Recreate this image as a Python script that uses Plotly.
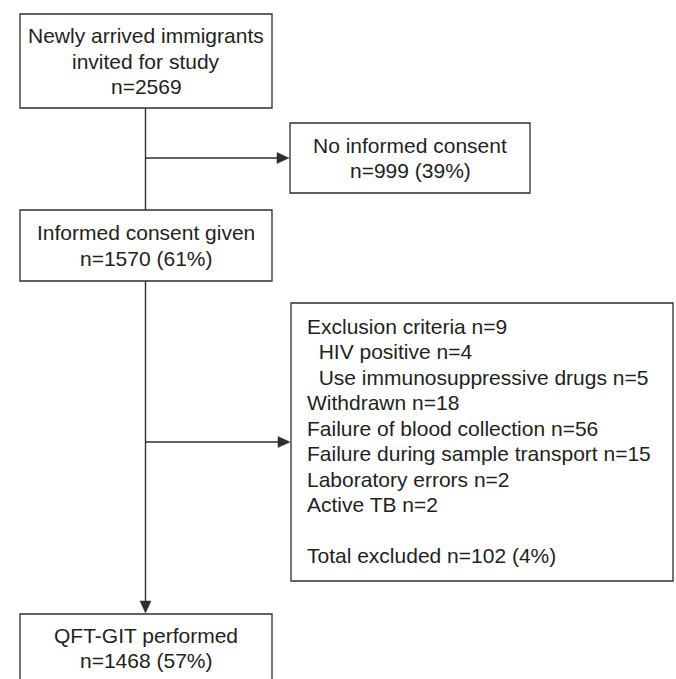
import plotly.graph_objects as go

# ---- content ----
box_titles = [
    ["Newly arrived immigrants", "invited for study", "n=2569"],
    ["No informed consent", "n=999 (39%)"],
    ["Informed consent given", "n=1570 (61%)"],
    ["QFT-GIT performed", "n=1468 (57%)"],
]
exclusion_lines = [
    "Exclusion criteria n=9",
    "\u00a0\u00a0HIV positive n=4",
    "\u00a0\u00a0Use immunosuppressive drugs n=5",
    "Withdrawn n=18",
    "Failure of blood collection n=56",
    "Failure during sample transport n=15",
    "Laboratory errors n=2",
    "Active TB n=2",
    "",
    "Total excluded n=102 (4%)",
]

# ---- layout geometry (pixels, y downward) ----
boxes = [
    dict(x0=20, x1=272, y0=14, y1=108),
    dict(x0=290, x1=530, y0=123, y1=193),
    dict(x0=20, x1=272, y0=210, y1=281),
    dict(x0=20, x1=272, y0=614, y1=700),
]
excl_box = dict(x0=291, x1=673, y0=303, y1=581)
excl_text_x = 305
excl_first_y = 326
line_gap = 25.5
spine_x = 145.5

W, H = 676, 679
LINE = "#2e2e2e"
TXT = "#231f20"
FONT = "Liberation Sans, Arial, Helvetica, sans-serif"
FS = 21

fig = go.Figure()
shapes = []
annotations = []

for b, lines in zip(boxes, box_titles):
    shapes.append(dict(type="rect", x0=b["x0"], x1=b["x1"], y0=b["y0"], y1=b["y1"],
                       line=dict(color=LINE, width=1.3), fillcolor="white", layer="above"))
    n = len(lines)
    cy = (b["y0"] + b["y1"]) / 2 if b["y1"] < H else 648
    for i, t in enumerate(lines):
        y = cy + (i - (n - 1) / 2) * line_gap
        annotations.append(dict(x=(b["x0"] + b["x1"]) / 2, y=y, text=t, showarrow=False,
                                xanchor="center", yanchor="middle",
                                font=dict(family=FONT, size=FS, color=TXT)))

shapes.append(dict(type="rect", **excl_box, line=dict(color=LINE, width=1.3)))
for i, t in enumerate(exclusion_lines):
    if not t:
        continue
    annotations.append(dict(x=excl_text_x, y=excl_first_y + i * line_gap, text=t, showarrow=False,
                            xanchor="left", yanchor="middle",
                            font=dict(family=FONT, size=FS, color=TXT)))

def seg(x0, y0, x1, y1):
    shapes.append(dict(type="line", x0=x0, y0=y0, x1=x1, y1=y1,
                       line=dict(color=LINE, width=1.4)))

def tri_right(xt, y, L=12, h=5.5):
    shapes.append(dict(type="path", path=f"M {xt},{y} L {xt-L},{y-h} L {xt-L},{y+h} Z",
                       fillcolor=LINE, line=dict(color=LINE, width=0.5)))

def tri_down(x, yt, L=12, h=5.5):
    shapes.append(dict(type="path", path=f"M {x},{yt} L {x-h},{yt-L} L {x+h},{yt-L} Z",
                       fillcolor=LINE, line=dict(color=LINE, width=0.5)))

# spine
seg(spine_x, boxes[0]["y1"], spine_x, boxes[2]["y0"])
seg(spine_x, boxes[2]["y1"], spine_x, boxes[3]["y0"] - 10)
tri_down(spine_x, boxes[3]["y0"] - 1)

# branches
b1y = (boxes[1]["y0"] + boxes[1]["y1"]) / 2
seg(spine_x, b1y, boxes[1]["x0"] - 10, b1y)
tri_right(boxes[1]["x0"] - 1, b1y)
b2y = 442
seg(spine_x, b2y, excl_box["x0"] - 10, b2y)
tri_right(excl_box["x0"] - 1, b2y)

fig.update_layout(
    width=W, height=H, margin=dict(l=0, r=0, t=0, b=0),
    paper_bgcolor="white", plot_bgcolor="white",
    xaxis=dict(range=[0, W], visible=False, fixedrange=True),
    yaxis=dict(range=[H, 0], visible=False, fixedrange=True),
    shapes=shapes, annotations=annotations, showlegend=False,
    hovermode=False,
)
fig.write_html(
    "out.html",
    config={"displayModeBar": False, "staticPlot": True},
    post_script="document.body.style.margin='0';document.body.style.overflow='hidden';",
)
